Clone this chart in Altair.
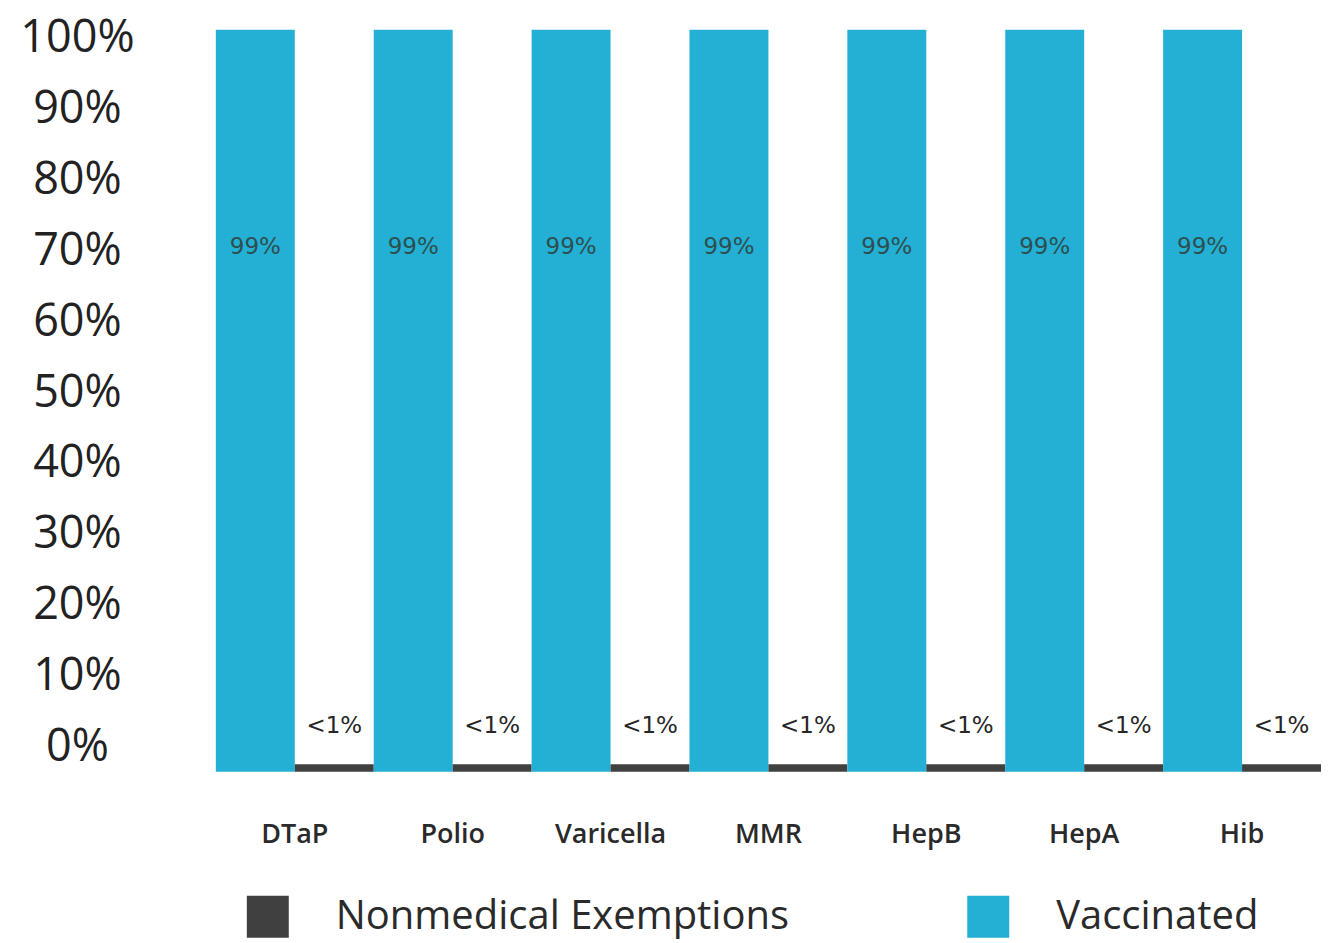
import altair as alt
import pandas as pd

vaccines = ["DTaP", "Polio", "Varicella", "MMR", "HepB", "HepA", "Hib"]
vaccinated = [99, 99, 99, 99, 99, 99, 99]
exemptions = [1, 1, 1, 1, 1, 1, 1]
vaccinated_labels = ["99%"] * 7
exemption_labels = ["<1%"] * 7
series = ["Vaccinated", "Nonmedical Exemptions"]
legend_order = ["Nonmedical Exemptions", "Vaccinated"]
legend_colors = ["#404040", "#24afd4"]
y_ticks = [0, 10, 20, 30, 40, 50, 60, 70, 80, 90, 100]

rows = []
for i, v in enumerate(vaccines):
    rows.append({"vaccine": v, "series": series[0], "value": vaccinated[i], "label": vaccinated_labels[i]})
    rows.append({"vaccine": v, "series": series[1], "value": exemptions[i], "label": exemption_labels[i]})
df = pd.DataFrame(rows)
ticks_df = pd.DataFrame({"tick": y_ticks})

x_enc = alt.X("vaccine:N", sort=vaccines,
              scale=alt.Scale(paddingInner=0, paddingOuter=0),
              axis=alt.Axis(title=None, labelAngle=0, domain=False, ticks=False,
                            labelPadding=50, labelFontSize=27, labelFont="Open Sans",
                            labelFontWeight=600, labelColor="#2a2a2a"))
xoff = alt.XOffset("series:N", sort=series, scale=alt.Scale(paddingInner=0, paddingOuter=0))
y_bar = alt.Y("value:Q", scale=alt.Scale(domain=[0, 100], nice=False), axis=None)

base = alt.Chart(df)

bars = base.mark_bar().encode(
    x=x_enc,
    xOffset=xoff,
    y=y_bar,
    color=alt.Color("series:N",
                    scale=alt.Scale(domain=legend_order, range=legend_colors),
                    legend=alt.Legend(title=None, orient="none", direction="horizontal",
                                      legendX=31, legendY=874, symbolType="square",
                                      symbolSize=1764, symbolStrokeWidth=0,
                                      labelFontSize=40, labelFont="Open Sans",
                                      labelColor="#2a2a2a", labelOffset=47,
                                      columnPadding=178, labelLimit=700)),
)

vacc_text = base.transform_filter(alt.datum.series == "Vaccinated").mark_text(
    dy=217, fontSize=23, font="DejaVu Sans", color="#2c4f4f"
).encode(x=x_enc, xOffset=xoff, y=y_bar, text="label:N")

exem_text = base.transform_filter(alt.datum.series == "Nonmedical Exemptions").mark_text(
    dy=-38, fontSize=23, font="DejaVu Sans", color="#262626"
).encode(x=x_enc, xOffset=xoff, y=y_bar, text="label:N")

axis_layer = alt.Chart(ticks_df).mark_point(opacity=0, size=0).encode(
    y=alt.Y("tick:Q", scale=alt.Scale(domain=[-3.6, 102.2], nice=False, zero=False),
            axis=alt.Axis(orient="left", values=y_ticks, labelExpr="datum.value + '%'",
                          title=None, domain=False, ticks=False, tickSize=0, grid=False,
                          labelAlign="center", labelPadding=139, labelFontSize=45,
                          labelFont="Open Sans", labelColor="#222222",
                          labelBaseline="middle"))
)

chart = alt.layer(bars, vacc_text, exem_text, axis_layer).resolve_scale(
    y="independent"
).properties(
    width=1106, height=750,
    background="white",
    autosize=alt.AutoSizeParams(type="none"),
    padding={"left": 208, "top": 14, "right": 10, "bottom": 170},
).configure_view(strokeWidth=0, stroke="transparent")

chart.save("out.html", embed_options={"renderer": "svg", "actions": False})
